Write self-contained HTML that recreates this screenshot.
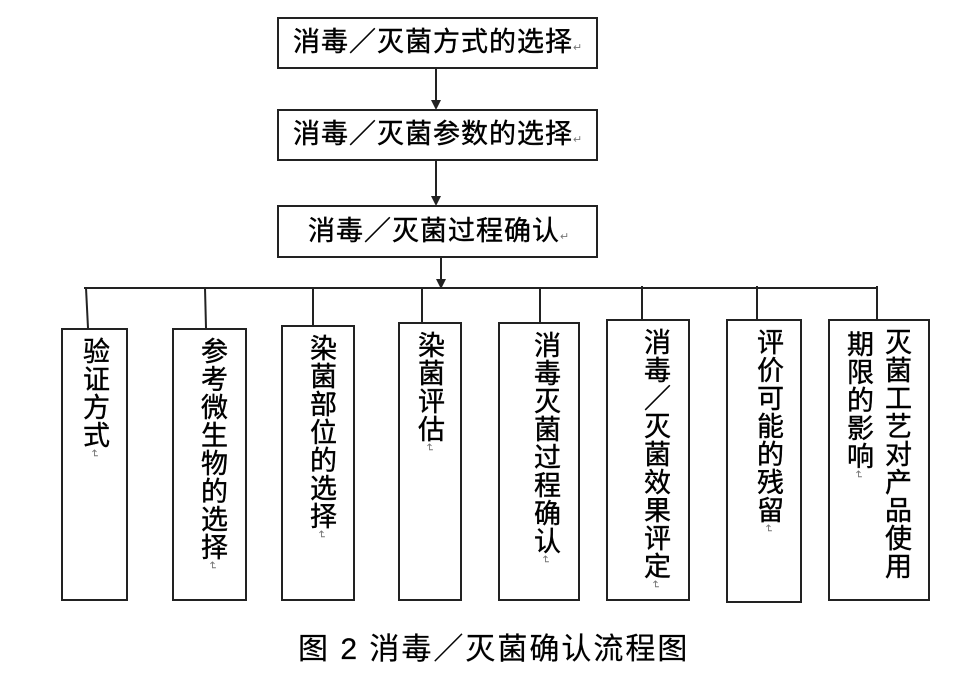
<!DOCTYPE html>
<html><head><meta charset="utf-8"><style>
body{margin:0;width:969px;height:677px;background:#fff;position:relative;overflow:hidden;font-family:"Liberation Sans","WenQuanYi Zen Hei","Noto Sans CJK SC",sans-serif;color:#000}
.b{position:absolute;border:2px solid #222;box-sizing:border-box}
.t{position:absolute;font-size:27px;line-height:1;white-space:nowrap;-webkit-text-stroke:0.4px #000;letter-spacing:1px}
.v{position:absolute;writing-mode:vertical-rl;font-size:27px;line-height:1;letter-spacing:1px;white-space:nowrap;-webkit-text-stroke:0.4px #000}
.r{font-size:11px;color:#777;letter-spacing:0;-webkit-text-stroke:0}
</style></head><body>
<svg width="969" height="677" style="position:absolute;left:0;top:0">
<g stroke="#222" stroke-width="2" fill="none">
<line x1="436" y1="68" x2="436" y2="102"/>
<line x1="436" y1="161" x2="436" y2="198"/>
<line x1="441" y1="258" x2="441" y2="281"/>
<line x1="84" y1="288" x2="878" y2="288"/>
<line x1="86" y1="288" x2="88" y2="328"/>
<line x1="205" y1="288" x2="206" y2="328"/>
<line x1="313" y1="288" x2="313" y2="325"/>
<line x1="422" y1="288" x2="422" y2="322"/>
<line x1="540" y1="288" x2="540" y2="322"/>
<line x1="642" y1="286" x2="642" y2="319"/>
<line x1="757" y1="286" x2="757" y2="319"/>
<line x1="877" y1="286" x2="877" y2="321"/>
</g>
<g fill="#222">
<polygon points="431,100 441,100 436,110"/>
<polygon points="431,196 441,196 436,206"/>
<polygon points="436,279 446,279 441,289"/>
</g>
</svg>
<div class="b" style="left:277px;top:17px;width:321px;height:52px"></div>
<div class="b" style="left:277px;top:109px;width:321px;height:52px"></div>
<div class="b" style="left:277px;top:205px;width:321px;height:53px"></div>
<div class="t" style="left:293px;top:29px">消毒／灭菌方式的选择<span class="r">↵</span></div>
<div class="t" style="left:293px;top:121px">消毒／灭菌参数的选择<span class="r">↵</span></div>
<div class="t" style="left:308px;top:218px">消毒／灭菌过程确认<span class="r">↵</span></div>

<div class="b" style="left:61px;top:328px;width:67px;height:273px"></div>
<div class="b" style="left:172px;top:328px;width:75px;height:273px"></div>
<div class="b" style="left:281px;top:325px;width:74px;height:276px"></div>
<div class="b" style="left:398px;top:322px;width:64px;height:279px"></div>
<div class="b" style="left:498px;top:322px;width:82px;height:279px"></div>
<div class="b" style="left:606px;top:319px;width:84px;height:282px"></div>
<div class="b" style="left:726px;top:319px;width:76px;height:284px"></div>
<div class="b" style="left:828px;top:319px;width:102px;height:282px"></div>

<div class="v" style="left:80px;top:337px">验证方式<span class="r">↵</span></div>
<div class="v" style="left:198px;top:337px">参考微生物的选择<span class="r">↵</span></div>
<div class="v" style="left:307px;top:334px">染菌部位的选择<span class="r">↵</span></div>
<div class="v" style="left:415px;top:331px">染菌评估<span class="r">↵</span></div>
<div class="v" style="left:531px;top:331px">消毒灭菌过程确认<span class="r">↵</span></div>
<div class="v" style="left:641px;top:328px">消毒／灭菌效果评定<span class="r">↵</span></div>
<div class="v" style="left:754px;top:328px">评价可能的残留<span class="r">↵</span></div>
<div class="v" style="left:882px;top:328px">灭菌工艺对产品使用</div>
<div class="v" style="left:844px;top:330px">期限的影响<span class="r">↵</span></div>

<div class="t" style="left:298px;top:635px;font-size:30px;-webkit-text-stroke:0.2px #000;letter-spacing:2px">图 2 消毒／灭菌确认流程图</div>
</body></html>
